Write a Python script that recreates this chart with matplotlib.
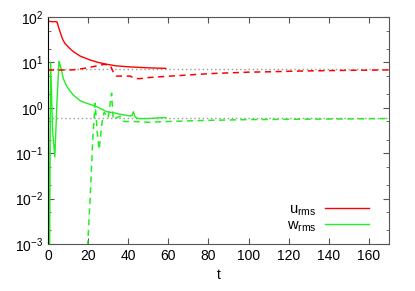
import matplotlib
matplotlib.use("Agg")
from matplotlib import pyplot as plt
from matplotlib.ticker import LogLocator, LogFormatterMathtext, MultipleLocator

plt.rcParams['font.family'] = ['Liberation Sans', 'DejaVu Sans']
plt.rcParams['mathtext.fontset'] = 'custom'
plt.rcParams['mathtext.rm'] = 'Liberation Sans'
plt.rcParams['mathtext.it'] = 'Liberation Sans'

# u_rms, run 1 (solid)
t_u = [0, 1, 2, 3, 4, 4.5, 5.5, 6.8, 7.5, 8.5, 10.5, 12.7, 16, 21, 25, 29.3, 34, 40, 45, 50, 54, 58.7]
u = [80, 80, 79, 79, 79, 78, 55, 37, 31, 26, 21, 17.2, 13.8, 11.3, 10, 9.1, 8.4, 8.0, 7.8, 7.6, 7.5, 7.4]

# u_rms, run 2 (dashed)
t_u2 = [0, 5, 10, 13, 18, 22, 25, 28, 31, 32.5, 34, 38, 41, 42.5, 44, 46, 49, 55, 61, 67.5, 76, 84,
        100, 109, 125, 150, 167, 170]
u2 = [6.8, 6.8, 6.8, 6.9, 7.4, 8.0, 8.5, 9.1, 8.6, 6.2, 5.0, 5.0, 5.0, 4.6, 4.4, 4.4, 4.6, 4.8, 5.0,
      5.2, 5.5, 5.75, 6.1, 6.2, 6.45, 6.7, 6.8, 6.85]

# w_rms, run 1 (solid)
t_w = [0, 0.7, 1.3, 2.3, 3.4, 4.5, 5.5, 6, 7.7, 9, 10.5, 12.7, 16, 19.3, 24.3, 29.3, 32.5, 36, 41,
       42, 42.5, 43.5, 45, 50, 55, 58.7]
w = [10.5, 1e-4, 10, 0.3, 0.083, 1.5, 10.5, 9, 4.3, 3.2, 2.5, 1.9, 1.43, 1.26, 1.06, 0.82, 0.78,
     0.72, 0.66, 0.68, 0.82, 0.62, 0.58, 0.58, 0.6, 0.61]

# w_rms, run 2 (dashed)
t_w2 = [19, 19.8, 21, 22.3, 23.5, 24.5, 25.5, 27, 28, 30, 31.7, 32.5, 34, 36, 37.7, 40, 43, 50, 60,
        80, 100, 125, 150, 170]
w2 = [1e-4, 1e-3, 0.01, 0.2, 1.26, 0.3, 0.12, 0.5, 0.8, 0.6, 2.1, 0.55, 0.6, 0.65, 0.5, 0.5, 0.5,
      0.48, 0.5, 0.53, 0.55, 0.56, 0.57, 0.58]

# reference levels
u_ref = 7.2
w_ref = 0.6

red = '#ff0000'
green = '#22ee22'

fig = plt.figure(figsize=(4.15, 2.91), dpi=100)
ax = fig.add_axes([0.1157, 0.1615, 0.8216, 0.78])

ax.axhline(u_ref, color='#999999', lw=1, ls=(0, (1, 2)))
ax.axhline(w_ref, color='#999999', lw=1, ls=(0, (1, 2)))

ax.plot(t_u, u, color=red, lw=1.0, label=r'$\mathrm{u_{rms}}$')
ax.plot(t_w, w, color=green, lw=1.0, label=r'$\mathrm{w_{rms}}$')
ax.plot(t_u2, u2, color=red, lw=1.1, ls=(0, (4, 3)))
ax.plot(t_w2, w2, color=green, lw=1.1, ls=(0, (4, 3)))

ax.set_yscale('log')
ax.set_xlim(0, 170)
ax.set_ylim(1e-3, 1e2)
ax.xaxis.set_major_locator(MultipleLocator(20))
ax.yaxis.set_major_locator(LogLocator(base=10, numticks=10))
ax.yaxis.set_minor_locator(LogLocator(base=10, subs=(2, 5), numticks=10))
ax.yaxis.set_major_formatter(LogFormatterMathtext())
ax.yaxis.set_minor_formatter(plt.NullFormatter())
ax.tick_params(which='both', direction='in', top=True, right=True, labelsize=10,
               color='#555555')
ax.tick_params(which='major', length=4)
ax.tick_params(which='minor', length=2)
for side in ['top', 'right', 'bottom']:
    ax.spines[side].set_color('#555555')
ax.spines['left'].set_color('black')

ax.set_xlabel('t', fontsize=10, labelpad=4)

ax.legend(loc='lower right', frameon=False, markerfirst=False, fontsize=10.5,
          handlelength=3.0, handletextpad=0.6, labelspacing=0.05,
          borderaxespad=0.3, bbox_to_anchor=(0.97, 0.0))

fig.savefig('out.png', dpi=100)
